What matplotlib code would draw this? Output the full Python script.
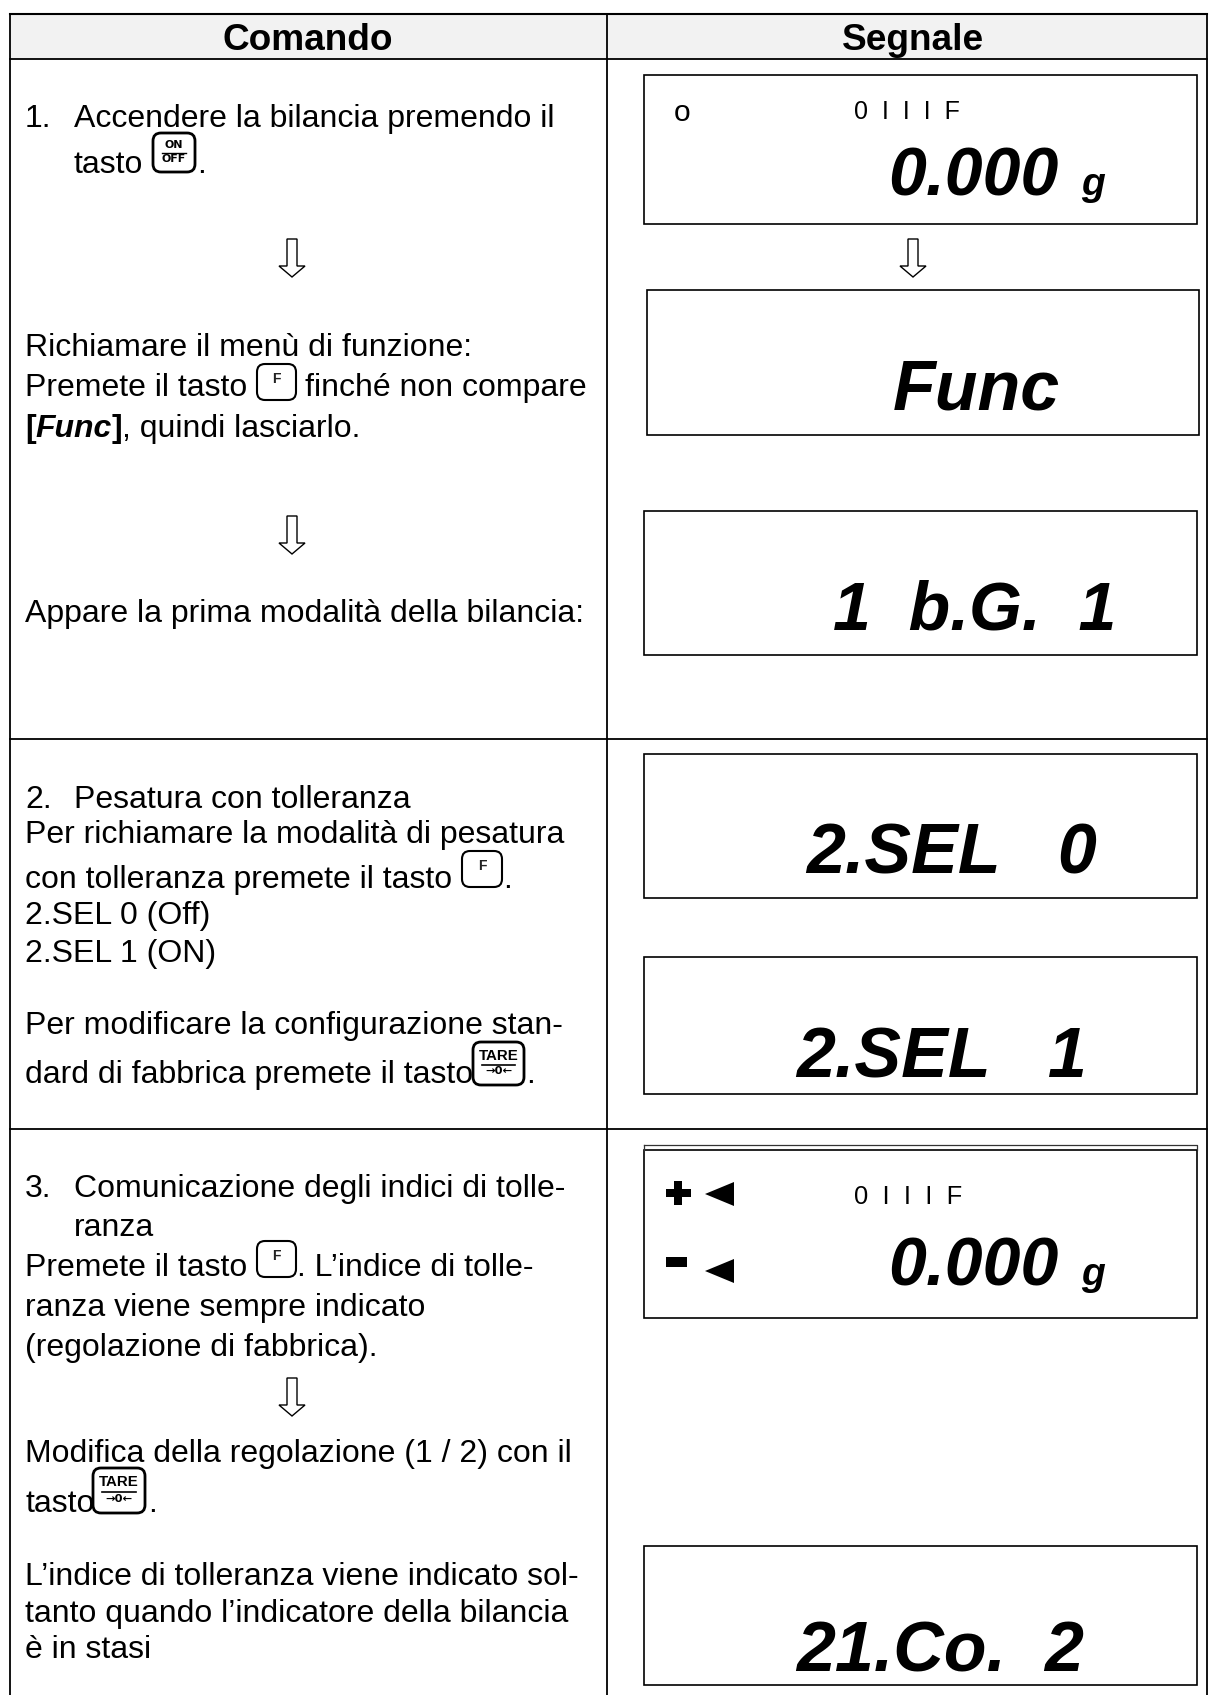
import matplotlib
matplotlib.use("Agg")
import matplotlib.pyplot as plt
from matplotlib.patches import FancyBboxPatch, Polygon, Rectangle

plt.rcParams["font.family"] = ["Liberation Sans", "DejaVu Sans"]

W, H = 1209, 1695
PX = 72 / 100  # pixel height -> points at dpi 100

# table text
headers = ["Comando", "Segnale"]
left_lines = [
    "1.", "Accendere la bilancia premendo il", "tasto", ".",
    "Richiamare il menù di funzione:", "Premete il tasto", "finché non compare",
    "Appare la prima modalità della bilancia:",
    "2.", "Pesatura con tolleranza", "Per richiamare la modalità di pesatura",
    "con tolleranza premete il tasto", ".", "2.SEL 0 (Off)", "2.SEL 1 (ON)",
    "Per modificare la configurazione stan-", "dard di fabbrica premete il tasto", ".",
    "3.", "Comunicazione degli indici di tolle-", "ranza",
    "Premete il tasto", ". L’indice di tolle-", "ranza viene sempre indicato",
    "(regolazione di fabbrica).",
    "Modifica della regolazione (1 / 2) con il", "tasto", ".",
    "L’indice di tolleranza viene indicato sol-",
    "tanto quando l’indicatore della bilancia", "è in stasi",
]
left_x = [25, 74, 74, 197, 25, 25, 305, 25, 25, 74, 25, 25, 503, 25, 25, 25, 25, 526,
          25, 74, 74, 25, 297, 25, 25, 25, 25, 148, 25, 25, 25]
left_y = [127, 127, 173, 173, 356, 396, 396, 622, 808, 808, 843, 888, 888, 924, 962,
          1034, 1083, 1083, 1197, 1197, 1236, 1276, 1276, 1316, 1356, 1462, 1512, 1512,
          1585, 1622, 1658]

display_texts = ["0.000", "g", "Func", "1  b.G.  1", "2.SEL   0", "2.SEL   1",
                 "0.000", "g", "21.Co.  2"]
display_x = [888, 1081, 893, 833, 806, 796, 888, 1081, 796]
display_y = [195, 195, 409, 630, 874, 1078, 1285, 1285, 1672]
display_px = [68, 39, 70, 68, 70, 70, 68, 39, 70]

# display boxes: left, top, right, bottom
box_left = [644, 647, 644, 644, 644, 644, 644]
box_top = [75, 290, 511, 754, 957, 1150, 1546]
box_right = [1197, 1199, 1197, 1197, 1197, 1197, 1197]
box_bottom = [224, 435, 655, 898, 1094, 1318, 1685]

arrow_x = [292, 913, 292, 292]
arrow_top = [239, 239, 516, 1378]

# keys: label, left, top, right, bottom
key_kind = ["onoff", "f", "f", "tare", "f", "tare"]
key_left = [153, 257, 462, 473, 257, 93]
key_top = [133, 364, 851, 1042, 1241, 1468]
key_right = [195, 296, 502, 524, 296, 145]
key_bottom = [172, 400, 887, 1085, 1277, 1513]

fig = plt.figure(figsize=(W / 100, H / 100), dpi=100)
ax = fig.add_axes([0, 0, 1, 1])
ax.set_xlim(0, W)
ax.set_ylim(H, 0)
ax.axis("off")


def draw_key(kind, x0, y0, x1, y1):
    heavy = 1.5 if kind == "f" else 2.0
    ax.add_patch(FancyBboxPatch((x0 + 8, y0 + 8), x1 - x0 - 16, y1 - y0 - 16,
                                boxstyle="round,pad=8,rounding_size=8",
                                fc="white", ec="black", lw=heavy))
    xc = (x0 + x1) / 2
    yc = (y0 + y1) / 2
    if kind == "f":
        ax.text(xc, yc - 3, "F", fontsize=14 * PX, weight="bold", ha="center", va="center",
                color="#222222")
    elif kind == "onoff":
        ax.text(xc, yc - 2, "ON", fontsize=11 * PX, weight="bold", ha="center", va="bottom",
                family="DejaVu Sans")
        ax.plot([x0 + 9, x1 - 9], [yc, yc], color="black", lw=1)
        ax.text(xc, yc + 2, "OFF", fontsize=11 * PX, weight="bold", ha="center", va="top",
                family="DejaVu Sans")
    else:
        ax.text(xc, yc - 1, "TARE", fontsize=15 * PX, weight="bold", ha="center", va="bottom")
        ax.plot([x0 + 9, x1 - 9], [yc + 1, yc + 1], color="black", lw=1.2)
        ax.text(xc, yc + 3, "→0←", fontsize=11.5 * PX, weight="bold", ha="center", va="top",
                family="DejaVu Sans")


# table frame
ax.add_patch(Rectangle((10, 14), 1197, 45, fc="#f2f2f2", ec="none"))
ax.plot([10, 1207], [14, 14], color="black", lw=1.5)
for yy in [59, 739, 1129]:
    ax.plot([10, 1207], [yy, yy], color="black", lw=1.3)
for xx in [10, 607, 1207]:
    ax.plot([xx, xx], [14, H], color="black", lw=1.3)

ax.text(308, 50, headers[0], fontsize=37 * PX, weight="bold", ha="center", va="baseline")
ax.text(913, 50, headers[1], fontsize=37 * PX, weight="bold", ha="center", va="baseline")

for s, x, y in zip(left_lines, left_x, left_y):
    ax.text(x, y, s, fontsize=32 * PX, va="baseline")

# mixed style line
ax.text(25, 437, "[", fontsize=32 * PX, weight="bold", va="baseline")
ax.text(35, 437, "Func", fontsize=32 * PX, weight="bold", style="italic", va="baseline")
ax.text(112, 437, "]", fontsize=32 * PX, weight="bold", va="baseline")
ax.text(122, 437, ", quindi lasciarlo.", fontsize=32 * PX, va="baseline")

for k, x0, y0, x1, y1 in zip(key_kind, key_left, key_top, key_right, key_bottom):
    draw_key(k, x0, y0, x1, y1)

for x, top in zip(arrow_x, arrow_top):
    pts = [(x - 5, top), (x + 5, top), (x + 5, top + 27), (x + 13, top + 27),
           (x, top + 38), (x - 13, top + 27), (x - 5, top + 27)]
    ax.add_patch(Polygon(pts, closed=True, fc="white", ec="black", lw=1))

for x0, y0, x1, y1 in zip(box_left, box_top, box_right, box_bottom):
    ax.add_patch(Rectangle((x0, y0), x1 - x0, y1 - y0, fc="none", ec="black", lw=1.2))
# doubled top edge on the tolerance display
ax.plot([644, 1197, 1197], [1145, 1145, 1150], color="#333333", lw=0.9)
ax.plot([644, 644], [1145, 1150], color="#333333", lw=0.9)

for s, x, y, px in zip(display_texts, display_x, display_y, display_px):
    ax.text(x, y, s, fontsize=px * PX, weight="bold", style="italic", va="baseline")

ax.text(674, 121, "o", fontsize=30 * PX, va="baseline")
ax.text(854, 119, "0  I  I  I  F", fontsize=25 * PX, va="baseline")
ax.text(854, 1204, "0  I  I  I  F", fontsize=25.5 * PX, va="baseline")

# tolerance markers
ax.add_patch(Rectangle((666, 1189), 25, 8, fc="black", ec="none"))
ax.add_patch(Rectangle((674, 1181), 8, 24, fc="black", ec="none"))
ax.add_patch(Rectangle((666, 1257), 21, 10, fc="black", ec="none"))
ax.add_patch(Polygon([(705, 1194), (734, 1182), (734, 1206)], fc="black", ec="none"))
ax.add_patch(Polygon([(705, 1271), (734, 1259), (734, 1283)], fc="black", ec="none"))

fig.savefig("out.png", dpi=100)
